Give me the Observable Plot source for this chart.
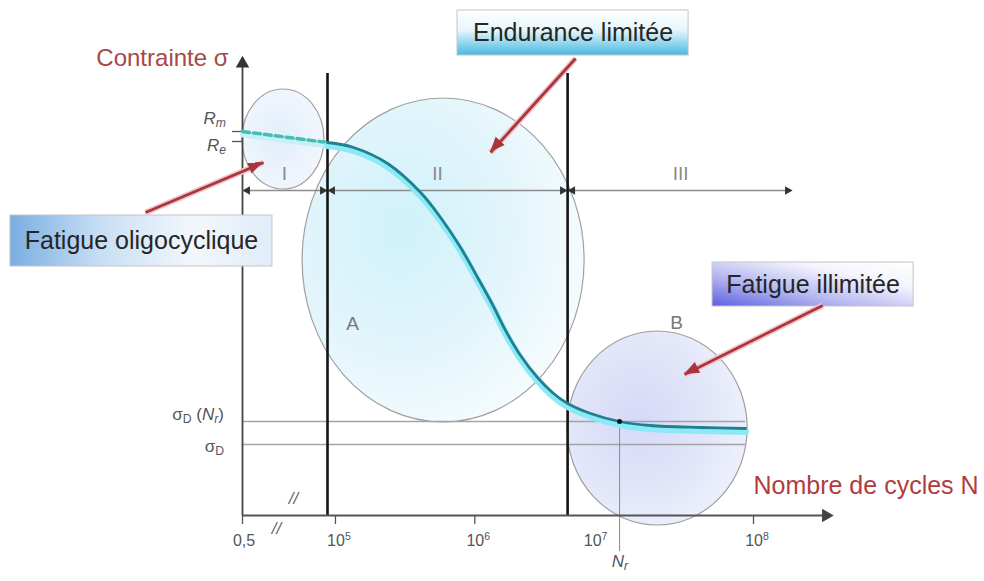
<!DOCTYPE html>
<html><head><meta charset="utf-8">
<script src="https://cdn.jsdelivr.net/npm/d3@7"></script>
<script src="https://cdn.jsdelivr.net/npm/@observablehq/plot@0.6"></script>
<style>body{margin:0;background:#fff;} svg{display:block;}</style>
</head><body><div id="chart"></div>
<script>
// Wöhler (S-N) curve. x = log10(N) (with axis break at the origin "0,5"), y = stress (arbitrary units)
const curveLogN   = [4.943, 5.130, 5.374, 5.611, 5.754, 5.898, 6.020, 6.127, 6.221, 6.328, 6.450, 6.565, 6.666, 6.831, 7.039, 7.261, 7.620, 7.943];
const curveStress = [373, 368, 352, 323, 298, 268, 238, 211, 185, 160, 138, 122, 112, 102, 94, 90, 88, 87];
const staticLogN   = [4.333, 4.943];
const staticStress = [384, 373];
const levelValues = [384, 374, 94, 71];           // Rm, Re, σD(Nr), σD
const boundaryLogN = [4.943, 6.666];
const NrLogN = 7.039;
const originLogN = 4.333;
const xTickValues = [4.333, 5, 6, 7, 8];
const xTickBase = ["0,5", "10", "10", "10", "10"];
const xTickExp  = ["", "5", "6", "7", "8"];
const domainLabels = ["I", "II", "III"];
const domainStart = [4.347, 4.957, 6.680];
const domainEnd   = [4.929, 6.651, 8.266];
const domainStress = 325;
const zoneNames = ["I", "A", "B"];
const zoneCenterLogN   = [4.627, 5.776, 7.312];
const zoneCenterStress = [376, 255, 87];
const zoneHalfWidth    = [0.294, 1.012, 0.646];
const zoneHalfHeight   = [50, 162, 97];
const boxLabels = ["Endurance limitée", "Fatigue oligocyclique", "Fatigue illimitée"];
const boxX1 = [5.876, 2.668, 7.706];
const boxX2 = [7.534, 4.548, 9.149];
const boxY1 = [460, 249, 209];
const boxY2 = [505, 300, 253];
const arrowFromLogN   = [6.723, 3.637, 8.496];
const arrowFromStress = [457, 303, 210];
const arrowToLogN     = [6.113, 4.484, 7.505];
const arrowToStress   = [363, 353, 141];

const FONT = "'Liberation Sans', Arial, sans-serif";

const defsMark = () => {
  const defs = d3.create("svg:defs");
  const rad = (id, cx, cy, r, stops) => {
    const g = defs.append("radialGradient").attr("id", id).attr("cx", cx).attr("cy", cy).attr("r", r);
    stops.forEach(([o, c]) => g.append("stop").attr("offset", o).attr("stop-color", c));
  };
  const lin = (id, x1, y1, x2, y2, stops) => {
    const g = defs.append("linearGradient").attr("id", id).attr("x1", x1).attr("y1", y1).attr("x2", x2).attr("y2", y2);
    stops.forEach(([o, c]) => g.append("stop").attr("offset", o).attr("stop-color", c));
  };
  rad("zone0", "45%", "50%", "60%", [[0, "#e2eefa"], [1, "#f3f7fd"]]);
  rad("zone1", "35%", "40%", "70%", [[0, "#d0f1fa"], [0.55, "#e2f5fb"], [1, "#f7fcfe"]]);
  rad("zone2", "40%", "45%", "70%", [[0, "#d6d9f7"], [0.6, "#e3e7f9"], [1, "#f2f4fc"]]);
  lin("box0", "0", "0", "0", "1", [[0, "#ffffff"], [0.45, "#e6f6fb"], [1, "#46b9e0"]]);
  lin("box1", "0", "0", "1", "0", [[0, "#7aaee2"], [0.35, "#c9dff4"], [0.7, "#f2f7fc"], [1, "#e0ecf8"]]);
  lin("box2", "0", "1", "1", "0", [[0, "#5b5fe0"], [0.35, "#b4b6f0"], [0.7, "#f4f4fd"], [1, "#ffffff"]]);
  return defs.node();
};

const zonesMark = (index, {x, y}) => {
  const g = d3.create("svg:g");
  zoneNames.forEach((name, i) => {
    const cx = x(zoneCenterLogN[i]), cy = y(zoneCenterStress[i]);
    const rx = Math.abs(x(zoneCenterLogN[i] + zoneHalfWidth[i]) - cx);
    const ry = Math.abs(y(zoneCenterStress[i] + zoneHalfHeight[i]) - cy);
    g.append("ellipse").attr("cx", cx).attr("cy", cy).attr("rx", rx).attr("ry", ry)
      .attr("fill", `url(#zone${i})`).attr("stroke", "#a0a0a0").attr("stroke-width", 1.2);
  });
  return g.node();
};

// filled arrowheads for the call-out arrows, placed with the plot's scales
const arrowHeadsMark = (index, {x, y}) => {
  const g = d3.create("svg:g").attr("fill", "#a8363c");
  boxLabels.forEach((_, i) => {
    const x1 = x(arrowFromLogN[i]), y1 = y(arrowFromStress[i]);
    const x2 = x(arrowToLogN[i]), y2 = y(arrowToStress[i]);
    const a = Math.atan2(y2 - y1, x2 - x1), L = 15, W = 6;
    const bx = x2 - L * Math.cos(a), by = y2 - L * Math.sin(a);
    const pts = [[x2, y2], [bx + W * Math.sin(a), by - W * Math.cos(a)], [bx - W * Math.sin(a), by + W * Math.cos(a)]];
    g.append("polygon").attr("points", pts.map(p => p.join(",")).join(" "));
  });
  return g.node();
};

// rich text: parts = [text, "sub"|"sup"|"", italic]
const richItems = [
  {x: 4.218, y: 395, anchor: "end", size: 17, fill: "#555", parts: [["R", "", true], ["m", "sub", true]]},
  {x: 4.218, y: 368, anchor: "end", size: 17, fill: "#555", parts: [["R", "", true], ["e", "sub", true]]},
  {x: 4.204, y: 99,  anchor: "end", size: 17, fill: "#555", parts: [["σ", "", false], ["D", "sub", false], [" (", "", false], ["N", "", true], ["r", "sub", true], [")", "", false]]},
  {x: 4.204, y: 67,  anchor: "end", size: 17, fill: "#555", parts: [["σ", "", false], ["D", "sub", false]]},
  {x: 7.045, y: -48, anchor: "middle", size: 17, fill: "#555", parts: [["N", "", true], ["r", "sub", true]]}
];
xTickValues.forEach((v, i) => richItems.push({
  x: v, y: -27, dx: i === 3 ? -18 : (i === 0 ? 2 : 4), anchor: "middle", size: 16, fill: "#555",
  parts: [[xTickBase[i], "", false], [xTickExp[i], "sup", false]]
}));

const richMark = (index, {x, y}) => {
  const g = d3.create("svg:g").attr("font-family", FONT);
  for (const it of richItems) {
    const t = g.append("text").attr("x", x(it.x) + (it.dx || 0)).attr("y", y(it.y))
      .attr("text-anchor", it.anchor).attr("font-size", it.size).attr("fill", it.fill)
      .attr("dominant-baseline", "middle");
    for (const [s, kind, ital] of it.parts) {
      if (!s) continue;
      const ts = t.append("tspan").text(s);
      if (kind === "sub") ts.attr("baseline-shift", "-30%").attr("font-size", it.size * 0.72);
      if (kind === "sup") ts.attr("baseline-shift", "45%").attr("font-size", it.size * 0.66);
      if (ital) ts.attr("font-style", "italic");
    }
  }
  return g.node();
};

const curveData = curveLogN.map((v, i) => ({n: v, s: curveStress[i]}));
const staticData = staticLogN.map((v, i) => ({n: v, s: staticStress[i]}));

const plot = Plot.plot({
  width: 984, height: 581, margin: 0,
  style: {fontFamily: FONT, background: "#ffffff", overflow: "visible"},
  x: {type: "linear", domain: [4.333, 8.574], range: [242, 833], axis: null},
  y: {type: "linear", domain: [0, 465], range: [515, 50], axis: null},
  marks: [
    defsMark,
    zonesMark,
    // endurance levels
    Plot.ruleY([levelValues[2], levelValues[3]], {x1: originLogN, x2: 7.943, stroke: "#a4a4a4", strokeWidth: 1.6}),
    // domain arrows I / II / III
    Plot.link(domainLabels, {x1: domainStart, x2: domainEnd, y1: domainStress, y2: domainStress, stroke: "#8c8c8c", strokeWidth: 1.3}),
    Plot.dot(domainLabels, {x: domainStart, y: domainStress, symbol: "triangle", r: 3.2, fill: "#333", rotate: -90, dx: 3}),
    Plot.dot(domainLabels, {x: domainEnd, y: domainStress, symbol: "triangle", r: 3.2, fill: "#333", rotate: 90, dx: -3}),
    Plot.text(domainLabels, {x: [4.634, 5.733, 7.477], y: 342, text: d => d, fontSize: 19, fill: "#8a8a8a"}),
    Plot.text(["A", "B"], {x: [5.123, 7.448], y: [192, 193], text: d => d, fontSize: 19, fill: "#777"}),
    // N_r
    Plot.ruleX([NrLogN], {y1: levelValues[2], y2: -36, stroke: "#8a8a8a", strokeWidth: 1}),
    // domain boundaries
    Plot.ruleX(boundaryLogN, {y1: 0, y2: 442, stroke: "#141414", strokeWidth: 2.6}),
    // axes
    Plot.ruleY([0], {x1: originLogN, x2: 8.52, stroke: "#555", strokeWidth: 1.8}),
    Plot.ruleX([originLogN], {y1: 0, y2: 452, stroke: "#444", strokeWidth: 1.8}),
    Plot.dot([0], {x: 8.52, y: 0, symbol: "triangle", r: 5, fill: "#444", rotate: 90}),
    Plot.dot([0], {x: originLogN, y: 452, symbol: "triangle", r: 5, fill: "#333"}),
    Plot.ruleX([4.333, 5, 6, 8], {y1: 0, y2: -9, stroke: "#555", strokeWidth: 1.3}),
    Plot.ruleY([levelValues[0], levelValues[1]], {x1: 4.261, x2: originLogN, stroke: "#555", strokeWidth: 1.3}),
    Plot.text(["//", "//"], {x: [4.699, 4.577], y: [17, -13], text: d => d, fontSize: 17, fill: "#666", fontStyle: "italic"}),
    // S-N curve
    Plot.line(staticData, {x: "n", y: "s", stroke: "#c6f0f5", strokeWidth: 6, dy: 3}),
    Plot.line(staticData, {x: "n", y: "s", stroke: "#45bdb3", strokeWidth: 3.5, strokeDasharray: "7,4"}),
    Plot.line(curveData, {x: "n", y: "s", curve: "catmull-rom", stroke: "#8ee9f6", strokeWidth: 7, dy: 3}),
    Plot.line(curveData, {x: "n", y: "s", curve: "catmull-rom", stroke: "#1f8090", strokeWidth: 2.8}),
    Plot.dot([0], {x: NrLogN, y: levelValues[2], r: 2.5, fill: "#111"}),
    // call-out boxes
    Plot.rect(boxLabels, {x1: boxX1, x2: boxX2, y1: boxY1, y2: boxY2, fill: (d, i) => `url(#box${i})`, stroke: "#c4c4c4", strokeWidth: 1}),
    Plot.text(boxLabels, {x: boxX1.map((v, i) => (v + boxX2[i]) / 2), y: boxY1.map((v, i) => (v + boxY2[i]) / 2), text: d => d, fontSize: 25, fill: "#262626"}),
    Plot.link(boxLabels, {x1: arrowFromLogN, y1: arrowFromStress, x2: arrowToLogN, y2: arrowToStress, stroke: "#f3c6cc", strokeWidth: 6}),
    Plot.link(boxLabels, {x1: arrowFromLogN, y1: arrowFromStress, x2: arrowToLogN, y2: arrowToStress, stroke: "#a8363c", strokeWidth: 2.8}),
    arrowHeadsMark,
    // axis titles
    Plot.text(["Contrainte σ"], {x: 4.233, y: 457, text: d => d, textAnchor: "end", fontSize: 24, fill: "#a8474a"}),
    Plot.text(["Nombre de cycles N"], {x: 8.0, y: 30, text: d => d, textAnchor: "start", fontSize: 25, fill: "#b23c3e"}),
    richMark
  ]
});
document.getElementById("chart").appendChild(plot);
</script></body></html>
